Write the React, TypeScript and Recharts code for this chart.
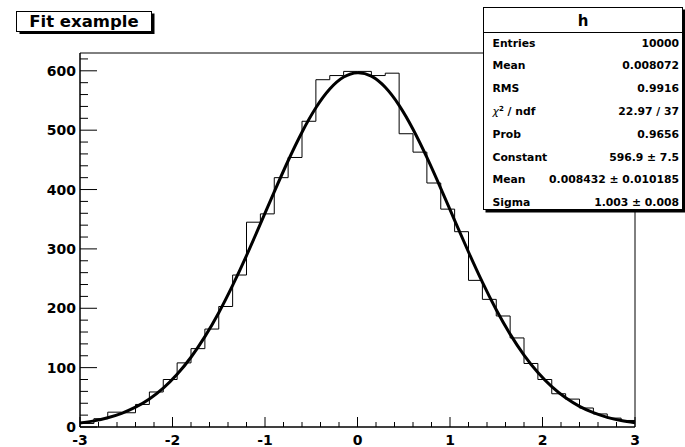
import { ComposedChart, Line, XAxis, YAxis, ReferenceArea } from "recharts";

// bin low edges of h (40 bins, -3..3), last entry closes the range
const binEdges = [
  -3, -2.85, -2.7, -2.55, -2.4, -2.25, -2.1, -1.95, -1.8, -1.65, -1.5, -1.35, -1.2, -1.05,
  -0.9, -0.75, -0.6, -0.45, -0.3, -0.15, 0, 0.15, 0.3, 0.45, 0.6, 0.75, 0.9, 1.05, 1.2,
  1.35, 1.5, 1.65, 1.8, 1.95, 2.1, 2.25, 2.4, 2.55, 2.7, 2.85, 3,
];

const binCounts = [
  6, 14, 25, 24, 38, 59, 80, 108, 132, 165, 203, 256, 345, 359, 420, 454, 515, 585, 592, 599,
  599, 592, 596, 494, 463, 411, 367, 329, 247, 215, 187, 150, 107, 80, 56, 47, 32, 22, 15, 11,
];

// gaus fit read at the bin edges
const fitValues = [
  6.7, 10.3, 15.6, 23.1, 33.4, 47.3, 65.5, 88.8, 117.5, 152.2, 192.6, 238.6, 288.8, 342.1,
  396.1, 448.5, 496.6, 537.7, 569.3, 589.5, 596.9, 591.0, 572.2, 541.8, 501.6, 454.1, 402.1,
  348.1, 294.8, 244.0, 197.5, 156.4, 121.1, 91.7, 67.9, 49.1, 34.8, 24.1, 16.3, 10.8, 7.0,
];

const xTicks = [
  -3, -2.8, -2.6, -2.4, -2.2, -2, -1.8, -1.6, -1.4, -1.2, -1, -0.8, -0.6, -0.4, -0.2, 0,
  0.2, 0.4, 0.6, 0.8, 1, 1.2, 1.4, 1.6, 1.8, 2, 2.2, 2.4, 2.6, 2.8, 3,
];
const yTicks = [
  0, 20, 40, 60, 80, 100, 120, 140, 160, 180, 200, 220, 240, 260, 280, 300, 320, 340, 360,
  380, 400, 420, 440, 460, 480, 500, 520, 540, 560, 580, 600, 620,
];

const statsRows = [
  { label: "Entries", value: "10000" },
  { label: "Mean", value: "0.008072" },
  { label: "RMS", value: "0.9916" },
  { label: "chi2", value: "22.97 / 37" },
  { label: "Prob", value: "0.9656" },
  { label: "Constant", value: "596.9 \u00b1 7.5" },
  { label: "Mean", value: "0.008432 \u00b1 0.010185" },
  { label: "Sigma", value: "1.003 \u00b1 0.008" },
];

const font = "'DejaVu Sans', sans-serif";

const chartData = binEdges.map((x, i) => ({
  x,
  h: binCounts[Math.min(i, binCounts.length - 1)],
  fit: fitValues[i],
}));

const Y_MARGIN = 4;

function YTick(props: any) {
  const { x, y, payload } = props;
  const v = payload.value;
  const major = v % 100 === 0;
  const ax = x + Y_MARGIN;
  return (
    <g>
      <line x1={ax} x2={ax + (major ? 17 : 8)} y1={y} y2={y} stroke="#000" strokeWidth={1} />
      {major && (
        <text x={x} y={y} dy={5} textAnchor="end" fontFamily={font} fontWeight="bold" fontSize={14} fill="#000">
          {v}
        </text>
      )}
    </g>
  );
}

function XTick(props: any) {
  const { x, y, payload } = props;
  const v = payload.value;
  const major = Math.abs(v - Math.round(v)) < 1e-6;
  return (
    <g>
      <line x1={x} x2={x} y1={y} y2={y - (major ? 10 : 5)} stroke="#000" strokeWidth={1} />
      {major && (
        <text x={x} y={y} dy={18} textAnchor="middle" fontFamily={font} fontWeight="bold" fontSize={14} fill="#000">
          {Math.round(v)}
        </text>
      )}
    </g>
  );
}

export default function App() {
  return (
    <div style={{ position: "fixed", left: 0, top: 0, width: 685, height: 447, background: "#fff" }}>
      <ComposedChart width={685} height={447} data={chartData} margin={{ top: 53, right: 50, bottom: 0, left: 0 }}>
        <XAxis
          dataKey="x"
          type="number"
          domain={[-3, 3]}
          ticks={xTicks}
          interval={0}
          height={20}
          tickLine={false}
          tickSize={0}
          tickMargin={0}
          axisLine={{ stroke: "#000" }}
          tick={<XTick />}
        />
        <YAxis
          type="number"
          domain={[0, 630]}
          ticks={yTicks}
          interval={0}
          width={80}
          tickLine={false}
          tickSize={0}
          tickMargin={Y_MARGIN}
          axisLine={{ stroke: "#000" }}
          tick={<YTick />}
        />
        <ReferenceArea x1={-3} x2={3} y1={0} y2={630} fill="none" stroke="#000" strokeWidth={1} ifOverflow="visible" />
        <Line dataKey="h" type="stepAfter" stroke="#000" strokeWidth={1} dot={false} isAnimationActive={false} />
        <Line dataKey="fit" type="natural" stroke="#000" strokeWidth={3} dot={false} isAnimationActive={false} />
      </ComposedChart>

      <svg width={685} height={447} style={{ position: "absolute", left: 0, top: 0, pointerEvents: "none" }}>
        {/* title pave */}
        <rect x={19.5} y={13.5} width={135} height={20.5} fill="#000" />
        <rect x={16.5} y={11.5} width={135} height={20} fill="#fff" stroke="#000" />
        <text x={84} y={26.5} textAnchor="middle" fontFamily={font} fontWeight="bold" fontSize={16.5}>
          Fit example
        </text>

        {/* stats box */}
        <rect x={485.5} y={9.5} width={200} height={203} fill="#000" />
        <rect x={483.5} y={7.5} width={199} height={202} fill="#fff" stroke="#000" />
        <line x1={483.5} x2={682.5} y1={32.5} y2={32.5} stroke="#000" />
        <text x={583} y={26} textAnchor="middle" fontFamily={font} fontWeight="bold" fontSize={15}>
          h
        </text>
        {statsRows.map((r, i) => {
          const by = 46.5 + i * 22.8;
          return (
            <g key={i} fontFamily={font} fontWeight="bold" fontSize={10.8}>
              <text x={492.5} y={by}>
                {r.label === "chi2" ? (
                  <>
                    <tspan fontWeight="normal" fontStyle="italic">χ</tspan>
                    <tspan fontSize={7} dy={-4}>2</tspan>
                    <tspan dy={4}> / ndf</tspan>
                  </>
                ) : (
                  r.label
                )}
              </text>
              <text x={679} y={by} textAnchor="end">
                {r.value}
              </text>
            </g>
          );
        })}
      </svg>
    </div>
  );
}
